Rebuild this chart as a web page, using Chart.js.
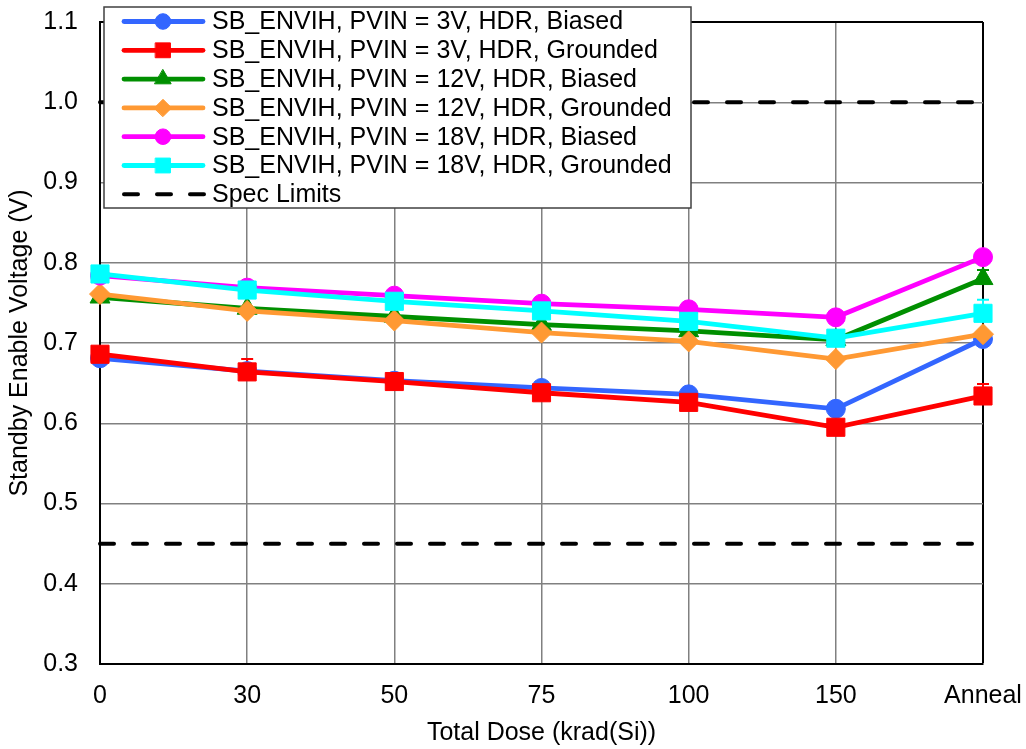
<!DOCTYPE html>
<html>
<head>
<meta charset="utf-8">
<title>Standby Enable Voltage vs Total Dose</title>
<script src="https://cdn.jsdelivr.net/npm/chart.js@4.4.0/dist/chart.umd.min.js"></script>
<style>
  html, body { margin: 0; padding: 0; background: #fff; }
  #wrap { width: 1026px; height: 749px; }
</style>
</head>
<body>
<div id="wrap"><canvas id="sbEnvihChart" width="1026" height="749"></canvas></div>
<script>
// Dose steps
const doseLabels = ['0', '30', '50', '75', '100', '150', 'Anneal'];

// Standby enable voltage (V) per condition
const pvin3Biased    = [0.681, 0.665, 0.653, 0.644, 0.636, 0.618, 0.705];
const pvin3Grounded  = [0.686, 0.664, 0.652, 0.638, 0.626, 0.595, 0.634];
const pvin12Biased   = [0.757, 0.743, 0.733, 0.723, 0.715, 0.704, 0.780];
const pvin12Grounded = [0.761, 0.740, 0.728, 0.713, 0.702, 0.680, 0.711];
const pvin18Biased   = [0.784, 0.769, 0.759, 0.749, 0.742, 0.732, 0.807];
const pvin18Grounded = [0.786, 0.766, 0.752, 0.740, 0.727, 0.706, 0.737];

// upper error (V), only where it shows past the marker
const pvin3BiasedErr    = [0, 0, 0, 0, 0, 0, 0];
const pvin3GroundedErr  = [0, 0.016, 0, 0, 0, 0, 0.015];
const pvin12BiasedErr   = [0, 0, 0, 0, 0, 0, 0.011];
const pvin12GroundedErr = [0, 0, 0, 0, 0, 0, 0];
const pvin18BiasedErr   = [0, 0, 0, 0, 0, 0, 0];
const pvin18GroundedErr = [0, 0, 0, 0, 0, 0, 0.017];

const specLimits = [1.0, 0.45];
const yTicks = [0.3, 0.4, 0.5, 0.6, 0.7, 0.8, 0.9, 1.0, 1.1];

const seriesNames = [
  'SB_ENVIH, PVIN = 3V, HDR, Biased',
  'SB_ENVIH, PVIN = 3V, HDR, Grounded',
  'SB_ENVIH, PVIN = 12V, HDR, Biased',
  'SB_ENVIH, PVIN = 12V, HDR, Grounded',
  'SB_ENVIH, PVIN = 18V, HDR, Biased',
  'SB_ENVIH, PVIN = 18V, HDR, Grounded'
];
const specName = 'Spec Limits';

const FONT = "'Liberation Sans', Arial, sans-serif";
const FONT_SIZE = 25;

const seriesData = [pvin3Biased, pvin3Grounded, pvin12Biased, pvin12Grounded, pvin18Biased, pvin18Grounded];
const seriesErr = [pvin3BiasedErr, pvin3GroundedErr, pvin12BiasedErr, pvin12GroundedErr, pvin18BiasedErr, pvin18GroundedErr];
const seriesStyle = [
  { color: '#3366ff', point: 'circle',  radius: 9.5 },
  { color: '#ff0000', point: 'rect',    radius: 12.8 },
  { color: '#008f00', point: 'triangle', radius: 11.5 },
  { color: '#ff9933', point: 'rectRot', radius: 10.5 },
  { color: '#ff00ff', point: 'circle',  radius: 9.5 },
  { color: '#00ffff', point: 'rect',    radius: 12.8 }
];

const datasets = seriesData.map((values, i) => ({
  label: seriesNames[i],
  data: values,
  errPlus: seriesErr[i],
  borderColor: seriesStyle[i].color,
  backgroundColor: seriesStyle[i].color,
  borderWidth: 4.8,
  pointStyle: seriesStyle[i].point,
  pointRadius: seriesStyle[i].radius,
  pointBorderWidth: 1,
  pointBorderColor: seriesStyle[i].color,
  pointBackgroundColor: seriesStyle[i].color,
  tension: 0,
  clip: false,
  order: 10 - i
}));

// dashed spec limit lines
specLimits.forEach((limit) => {
  datasets.push({
    label: specName,
    data: doseLabels.map(() => limit),
    borderColor: '#000',
    borderWidth: 4,
    borderDash: [14, 19],
    borderCapStyle: 'round',
    pointRadius: 0,
    clip: false,
    order: 20
  });
});

// upward error bars, drawn under the markers
const errorBars = {
  id: 'errorBars',
  beforeDatasetsDraw(chart) {
    const { ctx, scales: { y } } = chart;
    chart.data.datasets.forEach((ds, di) => {
      if (!ds.errPlus) return;
      const meta = chart.getDatasetMeta(di);
      ds.errPlus.forEach((err, j) => {
        if (!err) return;
        const pt = meta.data[j];
        const yTop = y.getPixelForValue(ds.data[j] + err);
        ctx.save();
        ctx.strokeStyle = ds.borderColor;
        ctx.lineWidth = 2;
        ctx.beginPath();
        ctx.moveTo(pt.x, pt.y);
        ctx.lineTo(pt.x, yTop);
        ctx.moveTo(pt.x - 6, yTop);
        ctx.lineTo(pt.x + 6, yTop);
        ctx.stroke();
        ctx.restore();
      });
    });
  }
};

// boxed legend sitting over the top-left of the plot
const boxLegend = {
  id: 'boxLegend',
  afterDraw(chart) {
    const ctx = chart.ctx;
    const left = 104, top = 7, width = 587, height = 201;
    const rowH = 28.8, firstRow = 14.5;
    ctx.save();
    ctx.fillStyle = '#fff';
    ctx.fillRect(left, top, width, height);
    ctx.strokeStyle = '#404040';
    ctx.lineWidth = 1.5;
    ctx.strokeRect(left, top, width, height);

    ctx.font = FONT_SIZE + 'px ' + FONT;
    ctx.textBaseline = 'middle';
    ctx.textAlign = 'left';

    const rows = seriesNames.map((name, i) => ({ name, style: seriesStyle[i] }));
    rows.push({ name: specName, style: null });

    rows.forEach((row, i) => {
      const cy = top + firstRow + i * rowH;
      ctx.lineCap = 'round';
      if (row.style) {
        ctx.strokeStyle = row.style.color;
        ctx.lineWidth = 4.8;
        ctx.setLineDash([]);
        ctx.beginPath();
        ctx.moveTo(124, cy);
        ctx.lineTo(203, cy);
        ctx.stroke();
        ctx.fillStyle = row.style.color;
        ctx.lineWidth = 1;
        Chart.helpers.drawPoint(ctx, {
          pointStyle: row.style.point,
          radius: row.style.radius * 0.82,
          rotation: 0,
          borderWidth: 1
        }, 163, cy);
      } else {
        ctx.strokeStyle = '#000';
        ctx.lineWidth = 4;
        ctx.setLineDash([14, 19]);
        ctx.beginPath();
        ctx.moveTo(124, cy);
        ctx.lineTo(205, cy);
        ctx.stroke();
        ctx.setLineDash([]);
      }
      ctx.fillStyle = '#000';
      ctx.fillText(row.name, 212, cy + 1);
    });
    ctx.restore();
  }
};

const ctx = document.getElementById('sbEnvihChart').getContext('2d');
new Chart(ctx, {
  type: 'line',
  data: {
    labels: doseLabels,
    datasets: datasets
  },
  options: {
    responsive: false,
    animation: false,
    layout: { padding: { left: 0, right: 43, top: 22, bottom: 0 } },
    plugins: {
      legend: { display: false },
      tooltip: { enabled: false }
    },
    scales: {
      x: {
        offset: false,
        grid: {
          color: (c) => (c.index === doseLabels.length - 1 ? '#000' : '#808080'),
          lineWidth: (c) => (c.index === doseLabels.length - 1 ? 2 : 1.5),
          drawTicks: false
        },
        border: { color: '#000', width: 2 },
        ticks: {
          color: '#000',
          font: { family: FONT, size: FONT_SIZE },
          padding: 17,
          maxRotation: 0,
          autoSkip: false
        },
        title: {
          display: true,
          text: 'Total Dose (krad(Si))',
          color: '#000',
          font: { family: FONT, size: FONT_SIZE },
          padding: { top: 0, bottom: 1 }
        },
        afterFit: (scale) => {
          scale.height = 85;
          scale.paddingLeft = 0;
          scale.paddingRight = 0;
        }
      },
      y: {
        min: 0.3,
        max: 1.1,
        afterBuildTicks: (scale) => { scale.ticks = yTicks.map(v => ({ value: v })); },
        grid: {
          color: (c) => (c.tick && c.tick.value === 1.1 ? '#000' : '#808080'),
          lineWidth: (c) => (c.tick && c.tick.value === 1.1 ? 2 : 1.5),
          drawTicks: false
        },
        border: { color: '#000', width: 2 },
        ticks: {
          color: '#000',
          font: { family: FONT, size: FONT_SIZE },
          padding: 22,
          callback: (v) => Number(v).toFixed(1)
        },
        title: {
          display: true,
          text: 'Standby Enable Voltage (V)',
          color: '#000',
          font: { family: FONT, size: FONT_SIZE },
          padding: { top: 5, bottom: 0 }
        },
        afterFit: (scale) => {
          scale.width = 100;
          scale.paddingTop = 0;
          scale.paddingBottom = 0;
        }
      }
    }
  },
  plugins: [errorBars, boxLegend]
});
</script>
</body>
</html>
